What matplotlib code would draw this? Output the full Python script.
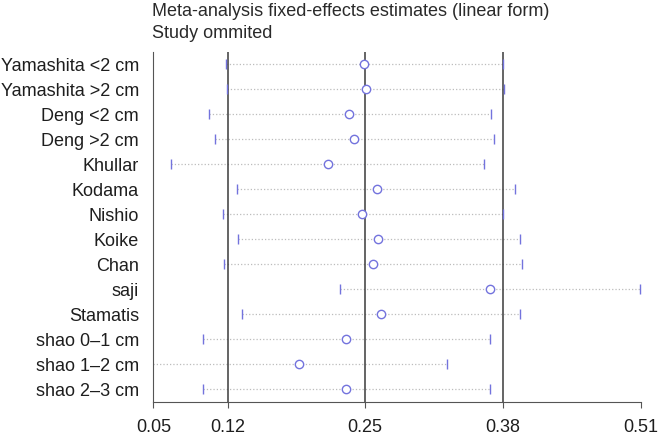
import matplotlib
matplotlib.use("Agg")
import matplotlib.pyplot as plt

plt.rcParams['font.family'] = ['Liberation Sans', 'DejaVu Sans']

# study omitted, with estimate and CI of the remaining pooled estimate
studies = ["Yamashita <2 cm", "Yamashita >2 cm", "Deng <2 cm", "Deng >2 cm",
           "Khullar", "Kodama", "Nishio", "Koike", "Chan", "saji", "Stamatis",
           "shao 0–1 cm", "shao 1–2 cm", "shao 2–3 cm"]
est = [0.249, 0.2505, 0.2347, 0.2398, 0.2148, 0.2607, 0.2467, 0.2625,
       0.2571, 0.368, 0.2647, 0.2316, 0.1875, 0.2316]
lower = [0.1188, 0.1197, 0.102, 0.1077, 0.0668, 0.1288, 0.1153, 0.1295,
         0.1162, 0.2266, 0.1335, 0.0968, 0.04, 0.0968]
upper = [0.3797, 0.3807, 0.3684, 0.3715, 0.3623, 0.3913, 0.3797, 0.3961,
         0.3977, 0.5095, 0.3964, 0.368, 0.327, 0.368]

# overall estimate and its CI
overall = [0.12, 0.25, 0.38]
x_min, x_max = 0.05, 0.51
tick_vals = [x_min] + overall + [x_max]
tick_labels = ["0.05", "0.12", "0.25", "0.38", "0.51"]

blue = '#7373dd'

fig = plt.figure(figsize=(6.61, 4.37), dpi=100)
ax = fig.add_axes([0.2322, 0.0812, 0.7368, 0.8009])

rows = list(range(1, len(studies) + 1))

for i, r in enumerate(rows):
	ax.plot([lower[i], upper[i]], [r, r], color='#bcbcbc', linestyle=':', linewidth=0.9, zorder=1)

for v in overall:
	ax.axvline(v, color='#3a3a3a', linewidth=1.1, zorder=2)

ax.plot(lower, rows, linestyle='none', marker='|', markersize=7, markeredgewidth=1.0, color=blue, zorder=3)
ax.plot(upper, rows, linestyle='none', marker='|', markersize=7, markeredgewidth=1.0, color=blue, zorder=3)
ax.plot(est, rows, linestyle='none', marker='o', markersize=6, markerfacecolor='white',
	markeredgecolor=blue, markeredgewidth=1.0, zorder=4)

ax.set_xlim(x_min, x_max)
ax.set_ylim(len(studies) + 0.5, 0.5)
ax.set_yticks(rows)
ax.set_yticklabels(studies, fontsize=13, color='#1e1e1e')
ax.set_xticks(tick_vals)
ax.set_xticklabels(tick_labels, fontsize=13, color='#1e1e1e')

ax.spines['top'].set_visible(False)
ax.spines['right'].set_visible(False)
ax.spines['left'].set_color('#555555')
ax.spines['bottom'].set_color('#555555')
ax.tick_params(axis='y', left=False, pad=7)
ax.tick_params(axis='x', length=4.5, color='#555555', pad=8)

fig.text(152 / 661, 1 - 12 / 437, "Meta-analysis fixed-effects estimates (linear form)",
	fontsize=13, ha='left', va='center', color='#2a2a2a')
fig.text(152 / 661, 1 - 33 / 437, "Study ommited",
	fontsize=13, ha='left', va='center', color='#2a2a2a')

fig.savefig('out.png', dpi=100)
